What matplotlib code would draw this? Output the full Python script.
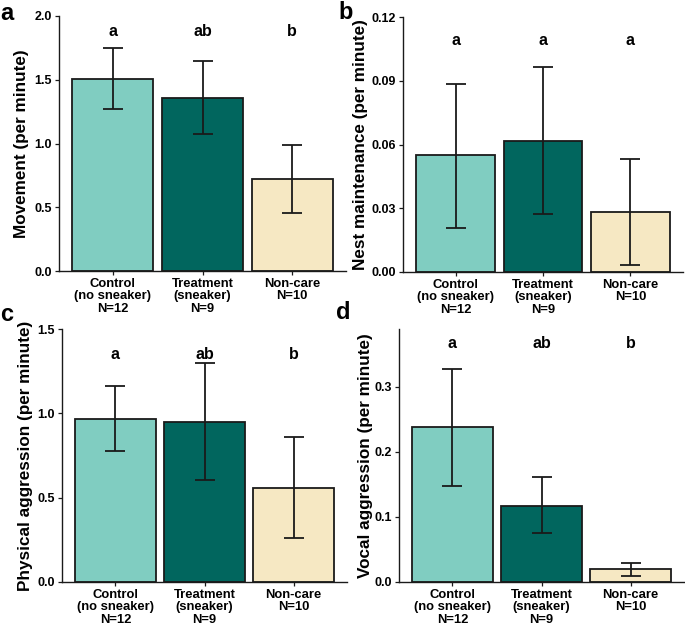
import matplotlib
matplotlib.use("Agg")
import matplotlib.pyplot as plt
import numpy as np

plt.rcParams['font.family'] = ['Liberation Sans', 'DejaVu Sans']
plt.rcParams['font.weight'] = 'bold'

groups = ["Control\n(no sneaker)\nN=12", "Treatment\n(sneaker)\nN=9", "Non-care\nN=10"]
colors = ["#80CDC1", "#01665E", "#F6E8C3"]

movement = [1.507, 1.357, 0.722]
movement_lo = [1.270, 1.076, 0.457]
movement_hi = [1.751, 1.646, 0.992]

nest = [0.0549, 0.0618, 0.0282]
nest_lo = [0.0207, 0.0275, 0.0031]
nest_hi = [0.0886, 0.0963, 0.0532]

physical = [0.968, 0.948, 0.558]
physical_lo = [0.776, 0.602, 0.259]
physical_hi = [1.160, 1.296, 0.859]

vocal = [0.238, 0.117, 0.0195]
vocal_lo = [0.148, 0.075, 0.0092]
vocal_hi = [0.328, 0.161, 0.029]

panels = [
    dict(tag="a", ylabel="Movement (per minute)", vals=movement, lo=movement_lo, hi=movement_hi,
         letters=["a", "ab", "b"], ly=1.88, ylim=2.0, ticks=[0, 0.5, 1.0, 1.5, 2.0], fmt="{:.1f}",
         box=(59, 16, 346, 271), labx=29, tagpos=(0, 20)),
    dict(tag="b", ylabel="Nest maintenance (per minute)", vals=nest, lo=nest_lo, hi=nest_hi,
         letters=["a", "a", "a"], ly=0.109, ylim=0.12, ticks=[0, 0.03, 0.06, 0.09, 0.12], fmt="{:.2f}",
         box=(403, 17, 683, 272), labx=368, tagpos=(338, 19)),
    dict(tag="c", ylabel="Physical aggression (per minute)", vals=physical, lo=physical_lo, hi=physical_hi,
         letters=["a", "ab", "b"], ly=1.346, ylim=1.5, ticks=[0, 0.5, 1.0, 1.5], fmt="{:.1f}",
         box=(62, 329, 347, 582), labx=33, tagpos=(0, 321)),
    dict(tag="d", ylabel="Vocal aggression (per minute)", vals=vocal, lo=vocal_lo, hi=vocal_hi,
         letters=["a", "ab", "b"], ly=0.367, ylim=0.389, ticks=[0, 0.1, 0.2, 0.3], fmt="{:.1f}",
         box=(399, 329, 684, 582), labx=373, tagpos=(336, 319)),
]

W, H = 685, 626
fig = plt.figure(figsize=(W / 100, H / 100), dpi=100)

x = np.arange(1, 4)
for p in panels:
    l, t, r, b = p["box"]
    ax = fig.add_axes([l / W, (H - b) / H, (r - l) / W, (b - t) / H])
    vals = np.array(p["vals"])
    err = [vals - np.array(p["lo"]), np.array(p["hi"]) - vals]
    ax.bar(x, vals, width=0.9, color=colors, edgecolor="#1a1a1a", linewidth=1.3, zorder=2)
    ax.errorbar(x, vals, yerr=err, fmt="none", ecolor="#1a1a1a", elinewidth=1.3,
                capsize=7, capthick=1.3, zorder=3)
    for xi, s in zip(x, p["letters"]):
        ax.text(xi, p["ly"], s, ha="center", va="center", fontsize=11.5, fontweight="bold")
    ax.set_xlim(0.4, 3.6)
    ax.set_ylim(0, p["ylim"])
    ax.set_yticks(p["ticks"])
    ax.set_yticklabels([p["fmt"].format(v) for v in p["ticks"]], fontsize=9, fontweight="bold")
    ax.set_xticks(x)
    ax.set_xticklabels(groups, fontsize=9.4, fontweight="bold", linespacing=1.05)
    ax.tick_params(length=3, width=0.9, color="#1a1a1a", pad=2)
    for s in ["top", "right"]:
        ax.spines[s].set_visible(False)
    for s in ["left", "bottom"]:
        ax.spines[s].set_linewidth(1.0)
        ax.spines[s].set_color("#1a1a1a")
    ax.set_ylabel(p["ylabel"], fontsize=12.3, fontweight="bold")
    ax.yaxis.set_label_coords((p["labx"] - l) / (r - l), 0.5)
    tx, ty = p["tagpos"]
    fig.text(tx / W, 1 - ty / H, p["tag"], fontsize=17, fontweight="bold",
             va="baseline", ha="left")

fig.savefig("out.png", dpi=100)
